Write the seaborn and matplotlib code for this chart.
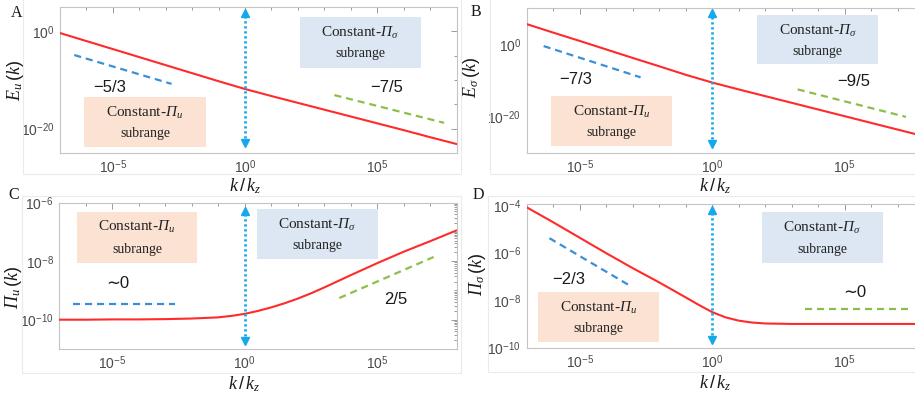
import numpy as np
import matplotlib
matplotlib.use("Agg")
import matplotlib.pyplot as plt
import matplotlib.transforms as mtransforms
from matplotlib.patches import Rectangle
from matplotlib.ticker import FixedLocator, FixedFormatter, NullFormatter
import seaborn as sns

sns.set_theme(style="white")
plt.rcParams['font.family'] = ['Liberation Sans', 'DejaVu Sans']
plt.rcParams['mathtext.fontset'] = 'custom'
plt.rcParams['mathtext.rm'] = 'Liberation Sans'
plt.rcParams['mathtext.it'] = 'Liberation Serif:italic'
plt.rcParams['mathtext.bf'] = 'Liberation Sans:bold'
# sf slot is used only for the italic capital Pi
plt.rcParams['mathtext.sf'] = 'Liberation Serif:italic'

# ---------------- data (log10 values) ----------------
logk_A = [-7, -6, -5, -4, -3, -2, -1, 0, 1, 2, 3, 4, 5, 6, 7, 8]
logE_u = [-0.35, -2.0, -3.65, -5.3, -6.95, -8.6, -10.25, -11.85, -13.3, -14.7,
          -16.1, -17.5, -18.9, -20.3, -21.75, -23.15]

logk_B = [-7, -6, -5, -4, -3, -2, -1, 0, 1, 2, 3, 4, 5, 6, 7, 8]
logE_s = [5.55, 3.2, 0.9, -1.45, -3.8, -6.1, -8.45, -10.6, -12.5, -14.35,
          -16.2, -18.05, -19.9, -21.75, -23.6, -25.45]

logk_C = [-7, -6, -5, -4, -3, -2, -1, -0.5, 0, 0.5, 1, 1.5, 2, 2.5, 3, 3.5, 4, 5, 6, 7, 8]
logPi_u = [-10.0, -10.0, -9.99, -9.99, -9.98, -9.96, -9.92, -9.87, -9.8, -9.7,
           -9.58, -9.44, -9.28, -9.1, -8.9, -8.69, -8.48, -8.07, -7.68, -7.32, -6.95]

logk_D = [-7, -6, -5, -4, -3, -2, -1, -0.5, 0, 0.5, 1, 1.5, 2, 3, 4, 5, 6, 7, 8]
logPi_s = [-4.09, -4.72, -5.37, -6.02, -6.65, -7.25, -7.88, -8.2, -8.5, -8.72,
           -8.86, -8.94, -8.98, -9.0, -9.0, -9.0, -9.0, -9.0, -9.0]

# reference slope segments: (log k start, log k end), (log y start, log y end)
guideA_low = ([-6.46, -2.78], [-4.87, -10.8])
guideA_high = ([3.38, 7.53], [-13.1, -18.8])
guideB_low = ([-6.36, -2.7], [-0.52, -9.17])
guideB_high = ([3.23, 7.32], [-12.5, -20.1])
guideC_low = ([-6.48, -2.62], [-9.45, -9.45])
guideC_high = ([3.57, 7.13], [-9.26, -7.86])
guideD_low = ([-6.14, -3.15], [-5.39, -7.36])
guideD_high = ([3.52, 7.4], [-8.37, -8.37])

slopeA = ["\u22125/3", "\u22127/5"]
slopeB = ["\u22127/3", "\u22129/5"]
slopeC = ["\u223c0", "2/5"]
slopeD = ["\u22122/3", "\u223c0"]

xtick_exp = [-5, 0, 5]

# ---------------- styling ----------------
RED = '#FF2A2A'
BLUE = '#3A8FD6'
GREEN = '#8CBF4A'
CYAN = '#16A8EC'
ORANGE_BOX = '#FBE2D3'
BLUE_BOX = '#DCE7F3'
SPINE = '#C4C4C4'
TICKC = '#8A8A8A'
LABC = '#4A4A4A'

PI = r'\mathsf{\u03a0}'.replace(r'\u03a0', '\u03a0')

W, H = 915, 401
fig = plt.figure(figsize=(W / 100, H / 100), dpi=100)
fig.patch.set_facecolor('white')
# pixel transform (origin top-left)
T = mtransforms.Affine2D().scale(1 / W, -1 / H).translate(0, 1) + fig.transFigure


def add_ax(l, t, r, b):
    return fig.add_axes([l / W, 1 - b / H, (r - l) / W, (b - t) / H])


# faint panel borders
for (l, t, r, b) in [(23, -2, 461, 174), (490, -2, 917, 174),
                     (22, 196, 461, 373), (488, 196, 917, 372)]:
    fig.patches.append(Rectangle((l, t), r - l, b - t, transform=T, fill=False,
                                 edgecolor='#EBEBEB', lw=0.8, zorder=0))

panels = [
    dict(pos=(60, 7, 456.5, 153), logk=logk_A, logy=logE_u, ylim=(-25, 5),
         ymajor=[0, -20], yminor=[5, -5, -10, -15, -25], sub=False,
         guides=(guideA_low, guideA_high), slopes=slopeA,
         slope_pos=[(110, 87), (387, 88)],
         obox=(84, 97, 206, 147), otext=[113, 133],
         bbox=(300, 17, 421, 68), btext=[33, 53],
         arrow=(10, 146), letter='A', letter_pos=(17, 13),
         ylabel=r'$E_u\,(k)$', ylab_pos=(15, 80), xlab_pos=(245, 186)),
    dict(pos=(526.7, 8, 924, 152.7), logk=logk_B, logy=logE_s, ylim=(-30, 10),
         ymajor=[0, -20], yminor=[10, -10, -30], sub=False,
         guides=(guideB_low, guideB_high), slopes=slopeB,
         slope_pos=[(576, 80), (854, 81)],
         obox=(550.7, 96, 671.7, 145.7), otext=[112, 132.5],
         bbox=(757.3, 15, 878.3, 64.3), btext=[30.7, 51.7],
         arrow=(10, 146.7), letter='B', letter_pos=(476, 12),
         ylabel=r'$E_\sigma\,(k)$', ylab_pos=(472, 78), xlab_pos=(715, 186)),
    dict(pos=(59.3, 202.5, 456.7, 349), logk=logk_C, logy=logPi_u, ylim=(-11, -6),
         ymajor=[-6, -8, -10], yminor=None, sub=True,
         guides=(guideC_low, guideC_high), slopes=slopeC,
         slope_pos=[(118, 283), (396, 300)],
         obox=(76.7, 212.3, 197.3, 262.7), otext=[226.7, 250],
         bbox=(257, 209, 377.7, 259), btext=[225, 245],
         arrow=(208.3, 344.3), letter='C', letter_pos=(14, 195),
         ylabel=r'$%s_u\,(k)$' % PI, ylab_pos=(13, 287), xlab_pos=(244, 384)),
    dict(pos=(526.7, 203.5, 924, 347.7), logk=logk_D, logy=logPi_s, ylim=(-10, -3.93),
         ymajor=[-4, -6, -8, -10], yminor=None, sub=True,
         guides=(guideD_low, guideD_high), slopes=slopeD,
         slope_pos=[(569, 280), (855, 292.7)],
         obox=(538.3, 291.7, 659.3, 342.3), otext=[308.3, 328.3],
         bbox=(761.7, 212.3, 883.3, 262.7), btext=[228.3, 249.3],
         arrow=(206.7, 342.7), letter='D', letter_pos=(478, 195),
         ylabel=r'$%s_\sigma\,(k)$' % PI, ylab_pos=(477, 274), xlab_pos=(715, 383)),
]

for p in panels:
    ax = add_ax(*p['pos'])
    ax.set_facecolor('white')
    ax.set_xscale('log')
    ax.set_yscale('log')

    # main curve
    k = 10.0 ** np.array(p['logk'])
    y = 10.0 ** np.array(p['logy'])
    sns.lineplot(x=k, y=y, ax=ax, color=RED, lw=1.5, zorder=4)

    # slope guides
    for g, c in zip(p['guides'], [BLUE, GREEN]):
        gx = 10.0 ** np.array(g[0])
        gy = 10.0 ** np.array(g[1])
        sns.lineplot(x=gx, y=gy, ax=ax, color=c, lw=1.6, zorder=3,
                     linestyle=(0, (3.2, 2.2)))

    ax.set_xlim(1e-7, 1e8)
    ax.set_ylim(10.0 ** p['ylim'][0], 10.0 ** p['ylim'][1])

    # shaded boxes
    l, t, r, b = p['obox']
    ax.add_patch(Rectangle((l, t), r - l, b - t, transform=T, facecolor=ORANGE_BOX,
                           edgecolor='none', zorder=1))
    cx = (l + r) / 2
    ax.text(cx, p['otext'][0], r'Constant-$%s_u$' % PI, transform=T, ha='center',
            va='center', fontsize=11, family='Liberation Serif', color='#222222', zorder=2)
    ax.text(cx, p['otext'][1], 'subrange', transform=T, ha='center', va='center',
            fontsize=10, family='Liberation Serif', color='#222222', zorder=2)
    l, t, r, b = p['bbox']
    ax.add_patch(Rectangle((l, t), r - l, b - t, transform=T, facecolor=BLUE_BOX,
                           edgecolor='none', zorder=1))
    cx = (l + r) / 2
    ax.text(cx, p['btext'][0], r'Constant-$%s_\sigma$' % PI, transform=T, ha='center',
            va='center', fontsize=11, family='Liberation Serif', color='#222222', zorder=2)
    ax.text(cx, p['btext'][1], 'subrange', transform=T, ha='center', va='center',
            fontsize=10, family='Liberation Serif', color='#222222', zorder=2)

    # slope labels
    for s, (sx, sy) in zip(p['slopes'], p['slope_pos']):
        ax.text(sx, sy, s, transform=T, ha='center', va='center', fontsize=12,
                color='#1A1A1A', zorder=5)

    # vertical double arrow at k = k_z
    y0, y1 = p['arrow']
    at, ab = p['pos'][1], p['pos'][3]
    f_top = (ab - y0) / (ab - at)
    f_bot = (ab - y1) / (ab - at)
    tr = ax.get_xaxis_transform()
    ax.plot([1, 1], [f_bot + 0.02, f_top - 0.02], transform=tr, color=CYAN, lw=2.0,
            linestyle=(0, (0.8, 1.0)), zorder=6)
    ax.plot([1], [f_top - 0.02], transform=tr, marker='^', color=CYAN, ms=6, zorder=6)
    ax.plot([1], [f_bot + 0.02], transform=tr, marker='v', color=CYAN, ms=6, zorder=6)

    # ticks
    ax.xaxis.set_major_locator(FixedLocator([10.0 ** e for e in xtick_exp]))
    ax.xaxis.set_major_formatter(FixedFormatter([r'$10^{%d}$' % e for e in xtick_exp]))
    ax.xaxis.set_minor_locator(FixedLocator([10.0 ** e for e in range(-7, 9)]))
    ax.xaxis.set_minor_formatter(NullFormatter())
    ax.yaxis.set_major_locator(FixedLocator([10.0 ** e for e in p['ymajor']]))
    ax.yaxis.set_major_formatter(FixedFormatter([r'$10^{%d}$' % e for e in p['ymajor']]))
    if p['sub']:
        lo, hi = int(np.floor(p['ylim'][0])), int(np.ceil(p['ylim'][1]))
        mins = [m * 10.0 ** e for e in range(lo, hi + 1) for m in range(1, 10)]
        ax.yaxis.set_minor_locator(FixedLocator(mins))
    else:
        ax.yaxis.set_minor_locator(FixedLocator([10.0 ** e for e in p['yminor']]))
    ax.yaxis.set_minor_formatter(NullFormatter())

    ax.tick_params(which='both', direction='in', top=True, right=True,
                   color=TICKC, width=0.6)
    ax.tick_params(which='major', length=4, labelsize=10, labelcolor=LABC, pad=4)
    ax.tick_params(which='minor', length=2.2)
    for sp in ax.spines.values():
        sp.set_color(SPINE)
        sp.set_linewidth(0.8)
    ax.grid(False)

    # axis labels
    ax.set_xlabel(r'$k\,/\,k_z$', fontsize=13, color='#1A1A1A', va='center')
    ax.xaxis.set_label_coords(p['xlab_pos'][0], p['xlab_pos'][1], transform=T)
    ax.set_ylabel(p['ylabel'], fontsize=13, color='#1A1A1A', va='center', ha='center')
    ax.yaxis.set_label_coords(p['ylab_pos'][0], p['ylab_pos'][1], transform=T)

    fig.text(p['letter_pos'][0] / W, 1 - p['letter_pos'][1] / H, p['letter'],
             ha='center', va='center', fontsize=11.5, family='Liberation Serif',
             color='#1A1A1A')

fig.savefig('out.png', dpi=100, facecolor='white')
